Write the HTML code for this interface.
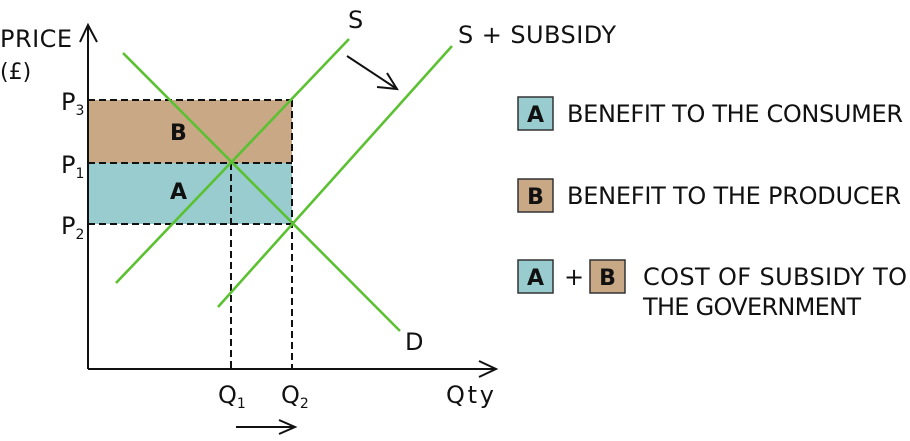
<!DOCTYPE html>
<html><head><meta charset="utf-8"><style>
html,body{margin:0;padding:0;background:#fff;}
svg{display:block;}
text{font-family:"DejaVu Sans","Liberation Sans",sans-serif;fill:#111;}
</style></head><body>
<svg width="910" height="441" viewBox="0 0 910 441" xmlns="http://www.w3.org/2000/svg">
<rect x="88" y="100" width="204" height="63" fill="#c9a886"/>
<rect x="88" y="163" width="204" height="61" fill="#98ccce"/>
<g stroke="#111" stroke-width="2" stroke-dasharray="7,4" fill="none">
<line x1="88" y1="100" x2="292" y2="100"/>
<line x1="88" y1="163" x2="292" y2="163"/>
<line x1="88" y1="224" x2="292" y2="224"/>
<line x1="292" y1="100" x2="292" y2="369"/>
<line x1="231" y1="163" x2="231" y2="369"/>
</g>
<g stroke="#111" stroke-width="2" fill="none">
<line x1="88" y1="25" x2="88" y2="369"/>
<polyline points="80,42 88,25 97,42"/>
<line x1="88" y1="369" x2="496" y2="369"/>
<polyline points="479,361 496,369 479,377"/>
<line x1="347" y1="56" x2="397" y2="89"/>
<polyline points="377,87 397,89 387,73"/>
<line x1="236" y1="427" x2="295" y2="427"/>
<polyline points="279,420 295,427 279,434"/>
</g>
<g stroke="#5cc132" stroke-width="2.6">
<line x1="123" y1="53" x2="400" y2="331"/>
<line x1="116" y1="283" x2="349" y2="39"/>
<line x1="218" y1="307" x2="452" y2="46"/>
</g>
<g font-size="24">
<text x="0" y="47" textLength="72">PRICE</text>
<text x="0" y="79" font-size="22">(£)</text>
<text x="61" y="110">P<tspan font-size="14" dy="5">3</tspan></text>
<text x="61" y="173">P<tspan font-size="14" dy="5">1</tspan></text>
<text x="61" y="234">P<tspan font-size="14" dy="5">2</tspan></text>
<text x="348" y="28">S</text>
<text x="458" y="43" textLength="158">S + SUBSIDY</text>
<text x="405" y="350">D</text>
<text x="218" y="403">Q<tspan font-size="14" dy="5">1</tspan></text>
<text x="281" y="403">Q<tspan font-size="14" dy="5">2</tspan></text>
<text x="446" y="403" textLength="48">Qty</text>
<text x="170" y="140" font-size="22" font-weight="bold">B</text>
<text x="170" y="199" font-size="22" font-weight="bold">A</text>
</g>
<g stroke="#333" stroke-width="1.5">
<rect x="518" y="97" width="35" height="33" fill="#98ccce"/>
<rect x="518" y="179" width="35" height="33" fill="#c9a886"/>
<rect x="518" y="260" width="35" height="33" fill="#98ccce"/>
<rect x="590" y="260" width="35" height="33" fill="#c9a886"/>
</g>
<g font-size="22" font-weight="bold" text-anchor="middle">
<text x="535.5" y="122">A</text>
<text x="535.5" y="204">B</text>
<text x="535.5" y="285">A</text>
<text x="607.5" y="285">B</text>
</g>
<g font-size="24">
<text x="567" y="122" textLength="336">BENEFIT TO THE CONSUMER</text>
<text x="567" y="204" textLength="334">BENEFIT TO THE PRODUCER</text>
<text x="564" y="285">+</text>
<text x="643" y="285" textLength="264">COST OF SUBSIDY TO</text>
<text x="643" y="315" textLength="218">THE GOVERNMENT</text>
</g>
</svg>
</body></html>
